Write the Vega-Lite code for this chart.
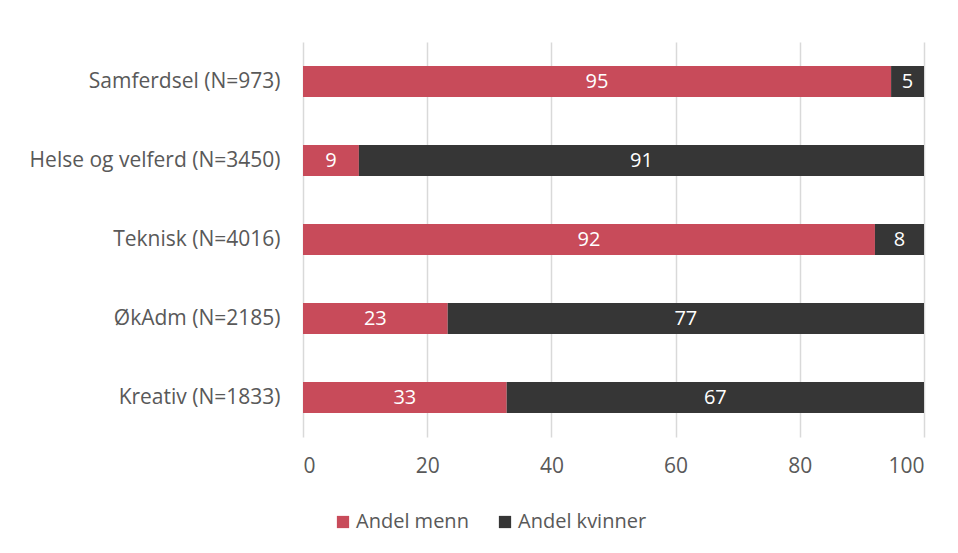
{
  "$schema": "https://vega.github.io/schema/vega-lite/v6.json",
  "width": 621,
  "height": 395,
  "autosize": {"type": "none"},
  "padding": {"left": 303, "top": 42, "right": 34, "bottom": 116},
  "background": "white",
  "config": {
    "font": "Open Sans",
    "view": {"stroke": null},
    "axis": {"labelColor": "#595959", "labelFontSize": 21, "labelFont": "Open Sans", "labelLimit": 0}
  },
  "data": {
    "values": [
      {"kat": "Samferdsel (N=973)", "kjonn": "Andel menn", "o": 1, "v": 94.7, "lab": "95"},
      {"kat": "Samferdsel (N=973)", "kjonn": "Andel kvinner", "o": 2, "v": 5.3, "lab": "5"},
      {"kat": "Helse og velferd (N=3450)", "kjonn": "Andel menn", "o": 1, "v": 9.0, "lab": "9"},
      {"kat": "Helse og velferd (N=3450)", "kjonn": "Andel kvinner", "o": 2, "v": 91.0, "lab": "91"},
      {"kat": "Teknisk (N=4016)", "kjonn": "Andel menn", "o": 1, "v": 92.1, "lab": "92"},
      {"kat": "Teknisk (N=4016)", "kjonn": "Andel kvinner", "o": 2, "v": 7.9, "lab": "8"},
      {"kat": "ØkAdm (N=2185)", "kjonn": "Andel menn", "o": 1, "v": 23.3, "lab": "23"},
      {"kat": "ØkAdm (N=2185)", "kjonn": "Andel kvinner", "o": 2, "v": 76.7, "lab": "77"},
      {"kat": "Kreativ (N=1833)", "kjonn": "Andel menn", "o": 1, "v": 32.8, "lab": "33"},
      {"kat": "Kreativ (N=1833)", "kjonn": "Andel kvinner", "o": 2, "v": 67.2, "lab": "67"}
    ]
  },
  "encoding": {
    "y": {
      "field": "kat", "type": "nominal", "sort": null, "title": null,
      "scale": {"paddingInner": 0.61, "paddingOuter": 0.305},
      "axis": {"domain": false, "ticks": false, "labelPadding": 23, "labelFontSize": 21}
    },
    "x": {
      "field": "v", "type": "quantitative", "stack": "zero", "title": null,
      "scale": {"domain": [0, 100], "nice": false},
      "axis": {"values": [0, 20, 40, 60, 80, 100], "domain": false, "ticks": false, "gridColor": "#d9d9d9", "gridWidth": 1.5, "labelPadding": 18, "labelFontSize": 21}
    },
    "order": {"field": "o", "type": "quantitative"}
  },
  "layer": [
    {
      "mark": {"type": "bar"},
      "encoding": {
        "color": {
          "field": "kjonn", "type": "nominal",
          "scale": {"domain": ["Andel menn", "Andel kvinner"], "range": ["#c84b5a", "#363636"]},
          "legend": {
            "title": null, "orient": "none", "legendX": 30, "legendY": 470, "direction": "horizontal",
            "symbolType": "square", "symbolSize": 150, "symbolStrokeWidth": 0,
            "labelFontSize": 20, "labelColor": "#595959", "columnPadding": 26,
            "labelOffset": 3
          }
        }
      }
    },
    {
      "mark": {"type": "text", "color": "white", "fontSize": 20},
      "encoding": {
        "x": {"field": "v", "type": "quantitative", "stack": "zero", "bandPosition": 0.5},
        "text": {"field": "lab", "type": "nominal"}
      }
    }
  ]
}
